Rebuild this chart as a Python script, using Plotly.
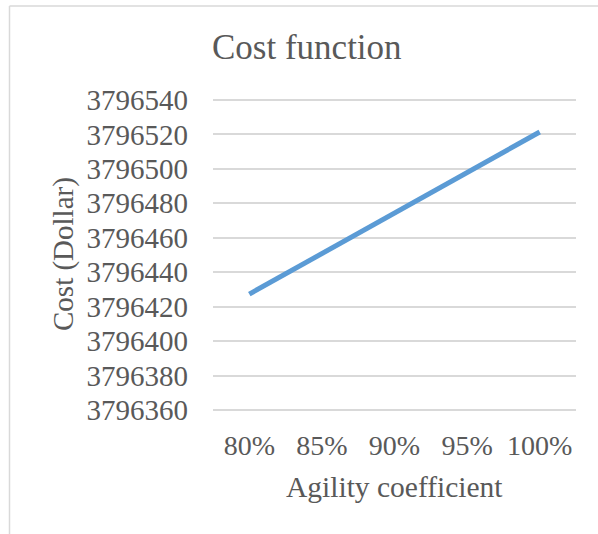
import plotly.graph_objects as go

# Agility coefficient levels and the resulting total cost
agility = ["80%", "85%", "90%", "95%", "100%"]
cost = [3796427.3, 3796450.8, 3796474.3, 3796497.9, 3796521.4]
y_ticks = [3796360, 3796380, 3796400, 3796420, 3796440, 3796460,
           3796480, 3796500, 3796520, 3796540]

FONT = "Liberation Serif"
TEXT = "#595959"
GRID = "#d9d9d9"

W, H = 598, 534
# gridline span: 3796540 at y=100 px, 3796360 at y=410 px; pad 3 px each side
PAD_PX = 3
L, R, T, B = 213, 22, 100 - PAD_PX, 124 - PAD_PX
pw, ph = W - L - R, H - T - B
units_per_px = (y_ticks[-1] - y_ticks[0]) / (ph - 2 * PAD_PX)
pad_units = PAD_PX * units_per_px


def px_x(x):
    return (x - L) / pw


def px_y(y):
    return (H - B - y) / ph


fig = go.Figure()
fig.add_trace(go.Scatter(
    x=agility, y=cost, mode="lines",
    line=dict(color="#5b9bd5", width=5),
    hoverinfo="x+y",
))

fig.update_layout(
    width=W, height=H,
    margin=dict(l=L, r=R, t=T, b=B),
    paper_bgcolor="white", plot_bgcolor="white",
    showlegend=False,
    font=dict(family=FONT, color=TEXT),
    xaxis=dict(
        type="category", range=[-0.5, 4.5],
        showgrid=False, zeroline=False, showline=False,
        ticks="", tickfont=dict(family=FONT, size=28, color=TEXT),
        ticklabelstandoff=10 + PAD_PX,
    ),
    yaxis=dict(
        range=[y_ticks[0] - pad_units, y_ticks[-1] + pad_units],
        tickvals=y_ticks, ticktext=[str(v) for v in y_ticks],
        showgrid=True, gridcolor=GRID, gridwidth=1.5,
        zeroline=False, showline=False, ticks="",
        tickfont=dict(family=FONT, size=29, color=TEXT),
        ticklabelstandoff=24,
    ),
    annotations=[
        dict(text="Cost function", xref="paper", yref="paper",
             x=px_x(307), y=px_y(47), xanchor="center", yanchor="middle",
             showarrow=False, font=dict(family=FONT, size=35, color=TEXT)),
        dict(text="Agility coefficient", xref="paper", yref="paper",
             x=0.5, y=px_y(487), xanchor="center", yanchor="middle",
             showarrow=False, font=dict(family=FONT, size=29.5, color=TEXT)),
        dict(text="Cost (Dollar)", xref="paper", yref="paper",
             x=px_x(63), y=px_y(254), xanchor="center", yanchor="middle",
             textangle=-90, showarrow=False,
             font=dict(family=FONT, size=29, color=TEXT)),
    ],
    shapes=[
        dict(type="line", xref="paper", yref="paper",
             x0=px_x(9.5), x1=px_x(9.5), y0=px_y(540), y1=px_y(6),
             line=dict(color=GRID, width=1.5)),
        dict(type="line", xref="paper", yref="paper",
             x0=px_x(9.5), x1=px_x(610), y0=px_y(6), y1=px_y(6),
             line=dict(color=GRID, width=1.5)),
    ],
)

fig.write_html("out.html")
